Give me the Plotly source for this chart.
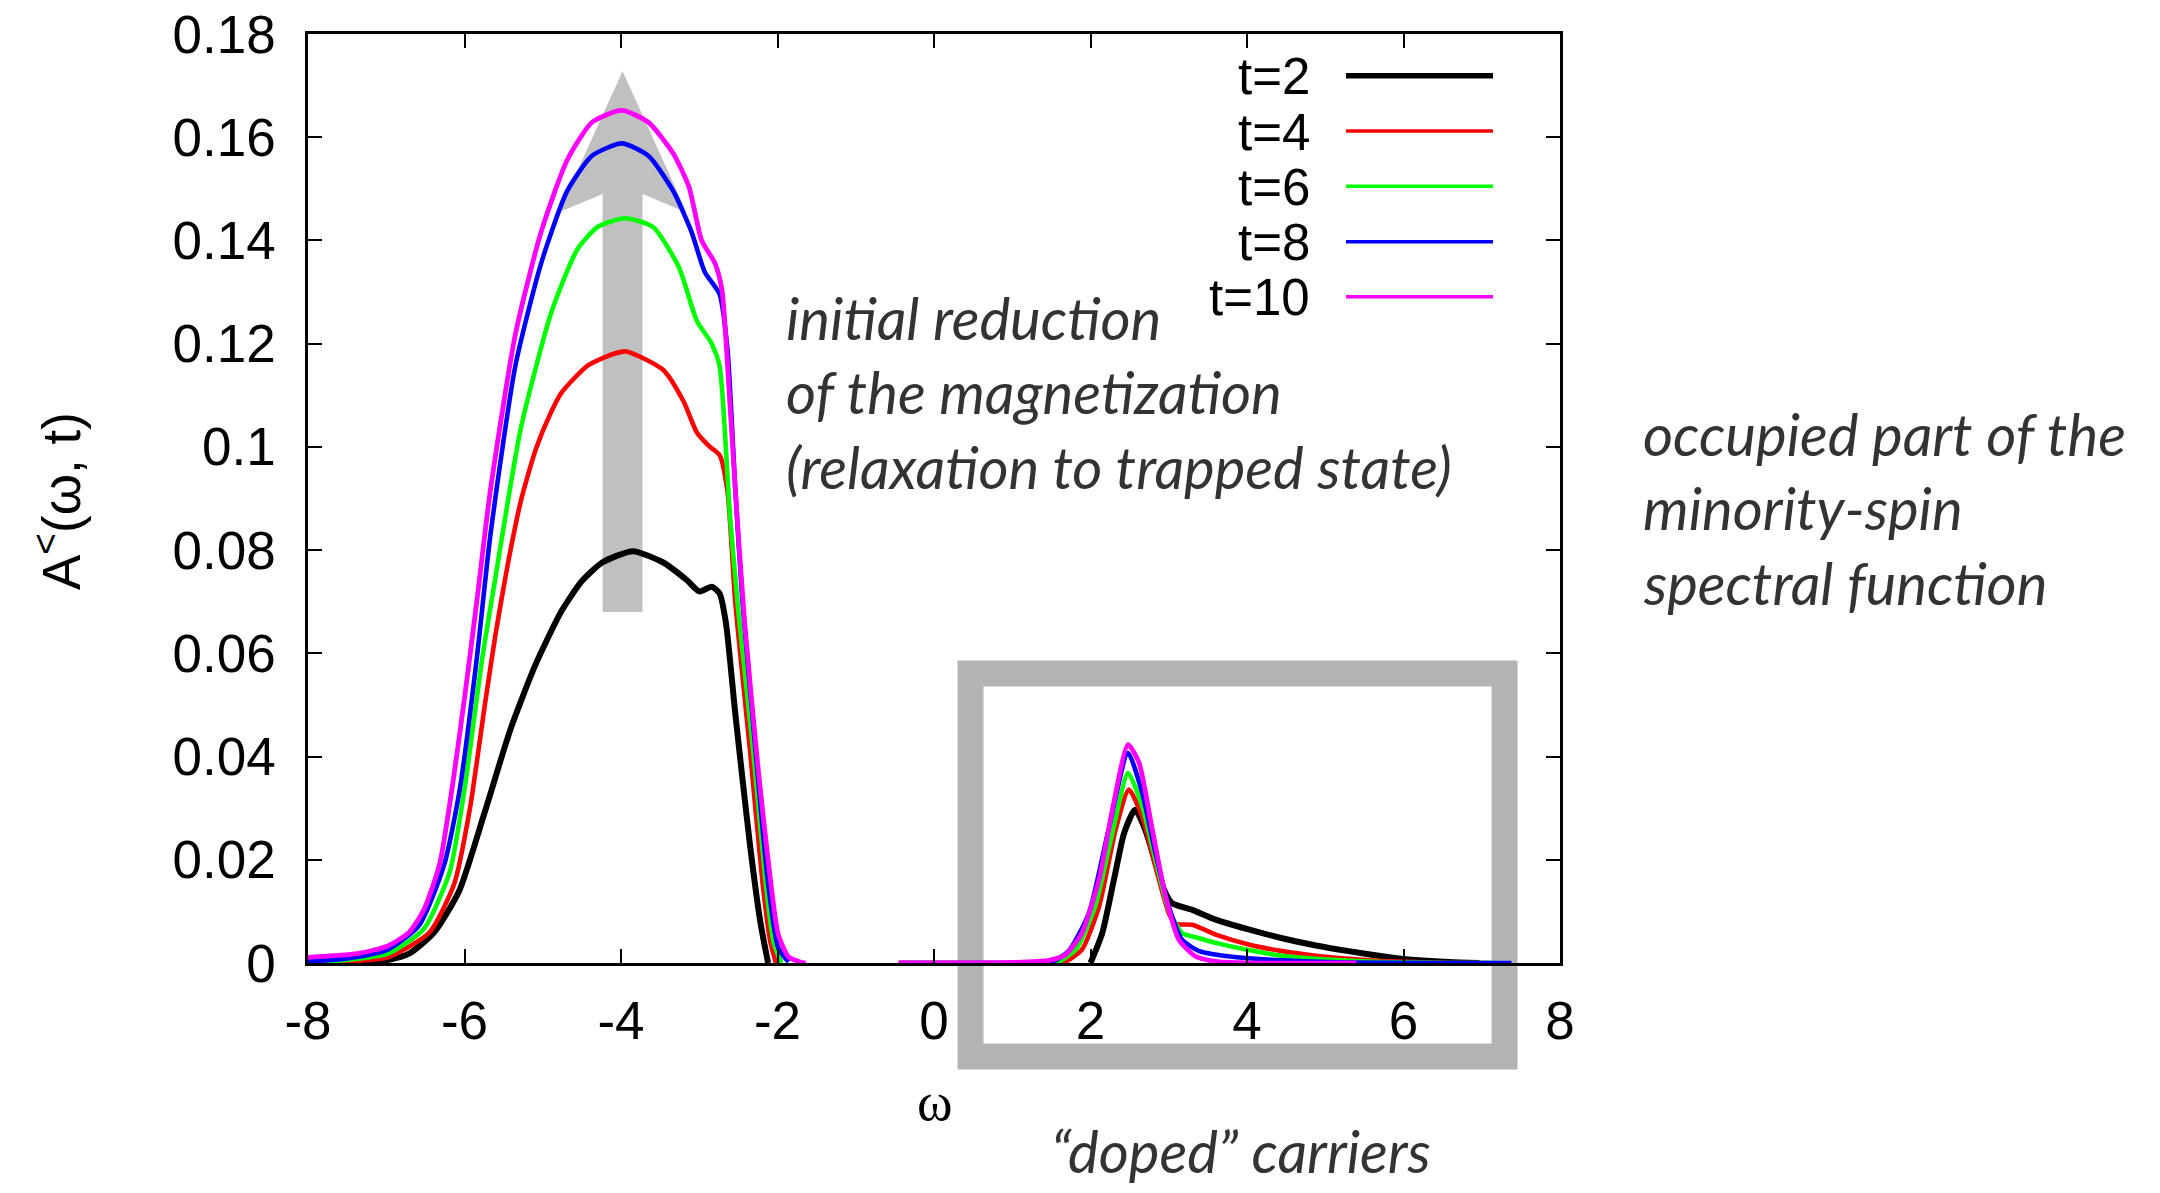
import plotly.graph_objects as go

# ---- spectral function A^<(omega, t), occupied minority-spin part ----
series_names = ["t=2", "t=4", "t=6", "t=8", "t=10"]
series_colors = ["#000000", "#ff0000", "#00ff00", "#0000ff", "#ff00ff"]

# lower band (omega < 0)
t2_low_w = [-7.35, -7.0, -6.71, -6.39, -6.07, -5.74, -5.41, -5.09, -4.76, -4.5, -4.24, -3.85,
            -3.46, -3.16, -3.0, -2.84, -2.74, -2.66, -2.54, -2.45, -2.35, -2.22, -2.12]
t2_low_a = [0, 0.0005, 0.0018, 0.0059, 0.0139, 0.0293, 0.0454, 0.0579, 0.0682, 0.074, 0.0776, 0.0798,
            0.0776, 0.0742, 0.0720, 0.0729, 0.0716, 0.066, 0.0484, 0.036, 0.0227, 0.008, 0]

t4_low_w = [-8, -7.5, -6.98, -6.45, -6.13, -5.93, -5.74, -5.6, -5.45, -5.28, -5.09, -4.9, -4.76,
            -4.43, -4.1, -3.93, -3.46, -3.20, -3.03, -2.87, -2.74, -2.64, -2.54, -2.45, -2.35, -2.19,
            -2.09, -2.02]
t4_low_a = [0, 0.0003, 0.0011, 0.0059, 0.0154, 0.030, 0.050, 0.064, 0.077, 0.0895, 0.0995, 0.1065, 0.1105,
            0.1157, 0.1180, 0.1185, 0.1149, 0.1088, 0.1028, 0.1001, 0.0984, 0.0915, 0.0699, 0.056, 0.041,
            0.0154, 0.004, 0]

t6_low_w = [-8, -7.5, -6.98, -6.52, -6.19, -6.0, -5.77, -5.61, -5.28, -4.89, -4.56, -4.30, -3.95,
            -3.59, -3.26, -3.03, -2.84, -2.74, -2.61, -2.50, -2.31, -2.15, -2.05, -1.95]
t6_low_a = [0.0001, 0.0006, 0.0018, 0.0066, 0.0176, 0.0337, 0.0594, 0.0742, 0.1036, 0.1261, 0.1382, 0.1426, 0.1443,
            0.1426, 0.1348, 0.1244, 0.120, 0.1157, 0.0872, 0.068, 0.041, 0.0154, 0.004, 0]

t8_low_w = [-8, -7.5, -6.98, -6.58, -6.26, -6.06, -5.84, -5.67, -5.35, -5.02, -4.69, -4.37, -3.99,
            -3.65, -3.33, -3.10, -2.93, -2.74, -2.64, -2.54, -2.45, -2.28, -2.12, -1.99, -1.86]
t8_low_a = [0.0003, 0.0009, 0.0026, 0.0073, 0.019, 0.0337, 0.0594, 0.0828, 0.1157, 0.1356, 0.1495, 0.1564, 0.1588,
            0.1564, 0.1495, 0.1417, 0.1339, 0.1296, 0.119, 0.092, 0.0704, 0.041, 0.0154, 0.0029, 0.0002]

t10_low_w = [-8, -7.37, -6.98, -6.71, -6.52, -6.32, -6.16, -6.0, -5.84, -5.67, -5.35, -5.02, -4.69, -4.37,
             -3.99, -3.65, -3.33, -3.13, -2.97, -2.80, -2.71, -2.61, -2.51, -2.42, -2.25, -2.09, -1.99,
             -1.86, -1.71, -1.64]
t10_low_a = [0.0011, 0.0018, 0.0033, 0.0059, 0.0103, 0.019, 0.0337, 0.0513, 0.0704, 0.0915, 0.1218, 0.1417,
             0.1555, 0.1629, 0.1652, 0.1629, 0.1568, 0.1503, 0.140, 0.1356, 0.1304, 0.1088, 0.085, 0.066,
             0.038, 0.016, 0.0055, 0.0012, 0.0002, 0]

# upper band ("doped" carriers, omega > 0)
t2_up_w = [2.0, 2.15, 2.30, 2.43, 2.57, 2.70, 2.83, 2.94, 3.04, 3.30, 3.60, 4.02, 4.45, 4.88,
           5.30, 5.73, 5.99, 6.58, 6.97]
t2_up_a = [0, 0.0058, 0.0162, 0.0252, 0.0297, 0.0258, 0.0194, 0.0142, 0.0116, 0.0103, 0.0084, 0.0065,
           0.0048, 0.0034, 0.0023, 0.0013, 0.0008, 0.0002, 0]

t4_up_w = [-0.45, 1.0, 1.64, 1.89, 2.11, 2.32, 2.49, 2.66, 2.83, 3.00, 3.09, 3.30, 3.60, 4.02,
           4.45, 4.88, 5.30, 5.73, 6.58, 7.1]
t4_up_a = [0, 0, 0, 0.0026, 0.011, 0.0258, 0.0336, 0.0284, 0.0187, 0.0097, 0.0076, 0.0074, 0.0055,
           0.0036, 0.0023, 0.0014, 0.0008, 0.0004, 0, 0]

t6_up_w = [-0.45, 1.0, 1.55, 1.81, 2.06, 2.28, 2.48, 2.66, 2.83, 3.0, 3.17, 3.39, 3.60, 4.02,
           4.45, 4.88, 5.73, 6.58, 7.2]
t6_up_a = [0, 0, 0, 0.0026, 0.011, 0.0252, 0.0368, 0.0304, 0.020, 0.0103, 0.0058, 0.0048, 0.0039,
           0.0025, 0.0014, 0.0008, 0.0002, 0, 0]

t8_up_w = [-0.45, 1.0, 1.47, 1.72, 1.98, 2.23, 2.48, 2.66, 2.83, 3.0, 3.17, 3.39, 3.81, 4.45,
           5.30, 6.5, 7.38]
t8_up_a = [0, 0, 0, 0.0023, 0.0097, 0.0258, 0.0407, 0.033, 0.0213, 0.011, 0.0045, 0.0023, 0.0012,
           0.0005, 0.0001, 0, 0]

t10_up_w = [-0.45, 1.0, 1.47, 1.68, 1.89, 2.11, 2.28, 2.48, 2.62, 2.79, 2.96, 3.13, 3.34, 3.60,
            4.02, 5.4]
t10_up_a = [0, 0.0001, 0.0005, 0.0016, 0.0058, 0.0162, 0.0297, 0.0423, 0.0388, 0.0258, 0.0129,
            0.0045, 0.0013, 0.0003, 0, 0]

low_w = [t2_low_w, t4_low_w, t6_low_w, t8_low_w, t10_low_w]
low_a = [t2_low_a, t4_low_a, t6_low_a, t8_low_a, t10_low_a]
up_w = [t2_up_w, t4_up_w, t6_up_w, t8_up_w, t10_up_w]
up_a = [t2_up_a, t4_up_a, t6_up_a, t8_up_a, t10_up_a]

x_tick_vals = [-8, -6, -4, -2, 0, 2, 4, 6, 8]
x_tick_text = ["-8", "-6", "-4", "-2", "0", "2", "4", "6", "8"]
y_tick_vals = [0, 0.02, 0.04, 0.06, 0.08, 0.1, 0.12, 0.14, 0.16, 0.18]
y_tick_text = ["0", "0.02", "0.04", "0.06", "0.08", "0.1", "0.12", "0.14", "0.16", "0.18"]

# ---- page geometry (pixels) ----
W, H = 2160, 1193
L, R, T, B = 308, 1560, 34, 963
PW, PH = R - L, B - T


def px_x(px):
    return (px - L) / PW


def px_y(py):
    return (B - py) / PH


line_widths = [6.0, 4.6, 4.6, 4.6, 4.8]
legend_widths = [5.5, 3.6, 3.6, 3.6, 3.6]

fig = go.Figure()
for i, name in enumerate(series_names):
    xs = list(low_w[i]) + [None] + list(up_w[i])
    ys = list(low_a[i]) + [None] + list(up_a[i])
    fig.add_trace(go.Scatter(
        x=xs, y=ys, mode="lines", name=name, showlegend=False,
        connectgaps=False,
        line=dict(color=series_colors[i], width=line_widths[i], shape="spline", smoothing=0.6),
        hoverinfo="skip",
    ))

TICK_FONT = dict(family="Liberation Sans, Arial, sans-serif", size=53, color="#000000")
NOTE_FONT = dict(family="Lato, 'Open Sans', sans-serif", size=58, color="#333333")

axis_common = dict(
    showline=True, linecolor="#000000", linewidth=2.5, mirror="ticks",
    ticks="inside", ticklen=14, tickwidth=2, tickcolor="#000000",
    showgrid=False, zeroline=False, tickfont=TICK_FONT, automargin=False,
)

fig.update_xaxes(range=[-8, 8], tickvals=x_tick_vals, ticktext=x_tick_text,
                 ticklabelstandoff=10, **axis_common)
fig.update_yaxes(range=[0, 0.18], tickvals=y_tick_vals, ticktext=y_tick_text,
                 ticklabelstandoff=19, **axis_common)

shapes = []
# shaded frame around the doped-carrier peak
shapes.append(dict(type="rect", xref="paper", yref="paper", layer="below",
                   x0=px_x(970.5), x1=px_x(1504.5), y0=px_y(1056.5), y1=px_y(673.5),
                   line=dict(color="#b4b4b4", width=26), fillcolor="rgba(0,0,0,0)"))
# upward arrow: growth of the lower band with time
ax, hw, sw = -3.98, 0.82, 0.255
tip, joint, corner, base = 0.1728, 0.149, 0.1454, 0.068
arrow_path = (f"M {ax} {tip} L {ax + hw} {corner} L {ax + sw} {joint} L {ax + sw} {base} "
              f"L {ax - sw} {base} L {ax - sw} {joint} L {ax - hw} {corner} Z")
shapes.append(dict(type="path", xref="x", yref="y", layer="below", path=arrow_path,
                   fillcolor="#c0c0c0", line=dict(width=0)))

# key: label on the left, line sample on the right
key_rows = [75.7, 131, 186.3, 241.7, 296.7]
annotations = []
for i, name in enumerate(series_names):
    shapes.append(dict(type="line", xref="paper", yref="paper",
                       x0=px_x(1346), x1=px_x(1493), y0=px_y(key_rows[i]), y1=px_y(key_rows[i]),
                       line=dict(color=series_colors[i], width=legend_widths[i])))
    annotations.append(dict(xref="paper", yref="paper", x=px_x(1311), y=px_y(key_rows[i] + 1),
                            xanchor="right", yanchor="middle", text=name, showarrow=False,
                            font=dict(family=TICK_FONT["family"], size=51, color="#000000"),
                            borderpad=0))

# axis titles
annotations.append(dict(xref="paper", yref="paper", x=px_x(57), y=px_y(501),
                        xanchor="center", yanchor="middle", textangle=-90, showarrow=False,
                        text="A<sup>&lt;</sup>(ω, t)",
                        font=dict(family=TICK_FONT["family"], size=53, color="#000000")))
annotations.append(dict(xref="paper", yref="paper", x=px_x(935), y=px_y(1102),
                        xanchor="center", yanchor="middle", showarrow=False, text="ω",
                        font=dict(family="Liberation Serif, Times New Roman, serif", size=54,
                                  color="#000000")))

# explanatory notes (left edge, vertical centre of the line)
note_lines = [
    ("initial reduction", 785, 321),
    ("of the magnetization", 785, 395),
    ("(relaxation to trapped state)", 785, 470),
    ("occupied part of the", 1642, 438),
    ("minority-spin", 1642, 512),
    ("spectral function", 1642, 586),
    ("“doped” carriers", 1050, 1154),
]
for txt, lx, cy in note_lines:
    annotations.append(dict(xref="paper", yref="paper", x=px_x(lx), y=px_y(cy - 4),
                            xanchor="left", yanchor="middle", showarrow=False,
                            text=f"<i>{txt}</i>", font=NOTE_FONT, borderpad=0))

fig.update_layout(
    width=W, height=H,
    margin=dict(l=L, r=W - R, t=T, b=H - B, autoexpand=False),
    paper_bgcolor="#ffffff", plot_bgcolor="rgba(0,0,0,0)",
    shapes=shapes, annotations=annotations, showlegend=False,
)

fig.write_html("out.html")
